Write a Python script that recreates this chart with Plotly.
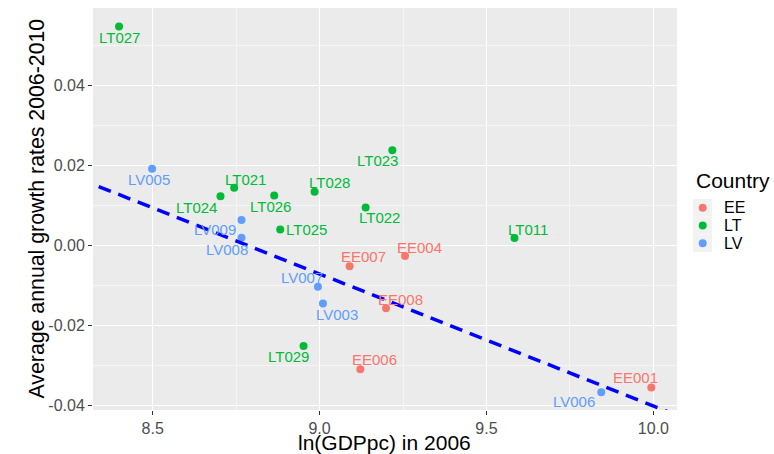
import plotly.graph_objects as go

# ---------------- data ----------------
regions = ["LT027", "LV005", "LT024", "LT021", "LT026", "LT028", "LV009", "LT025",
           "LV008", "LT022", "LT023", "EE007", "LV007", "LV003", "EE008", "LT029",
           "EE006", "EE004", "LT011", "LV006", "EE001"]
country = ["LT", "LV", "LT", "LT", "LT", "LT", "LV", "LT",
           "LV", "LT", "LT", "EE", "LV", "LV", "EE", "LT",
           "EE", "EE", "LT", "LV", "EE"]
ln_gdppc_2006 = [8.399, 8.498, 8.703, 8.744, 8.864, 8.985, 8.766, 8.882,
                 8.766, 9.138, 9.218, 9.090, 8.995, 9.010, 9.199, 8.952,
                 9.122, 9.256, 9.584, 9.844, 9.994]
growth_2006_2010 = [0.0546, 0.0191, 0.0122, 0.01435, 0.0124, 0.01335, 0.00625, 0.0039,
                    0.00185, 0.00943, 0.0237, -0.00525, -0.0104, -0.01458, -0.01575, -0.02518,
                    -0.0310, -0.00275, 0.00175, -0.03675, -0.0356]
# fitted regression line: growth = intercept + slope * ln(GDPpc)
fit_intercept = 0.2898
fit_slope = -0.0330

country_order = ["EE", "LT", "LV"]
country_colors = {"EE": "#F8766D", "LT": "#00BA38", "LV": "#619CFF"}

# label offsets in pixels (dx right, dy down) -- layout only
label_offsets = {
    "LT027": (0, 11), "LV005": (-3.5, 10.7), "LT024": (-23.6, 11.3), "LT021": (11.3, -8.3),
    "LT026": (-3.5, 11.3), "LT028": (14.7, -9.6), "LV009": (-26.6, 9.3), "LT025": (26.7, 0),
    "LV008": (-15, 11.7), "LT022": (14, 10.3), "LT023": (-14.5, 10.7), "EE007": (14, -10),
    "LV007": (-16, -9.6), "LV003": (14.5, 11), "EE008": (14.5, -8.7), "LT029": (-14.6, 10.7),
    "EE006": (14.5, -9.3), "EE004": (14, -8.4), "LT011": (13.6, -8.7), "LV006": (-26.8, 9.4),
    "EE001": (-16.2, -10),
}

x_range = [8.321, 10.071]
y_range = [-0.0412, 0.05925]

FONT = "Liberation Sans, Arial, sans-serif"
ML, MR, MT, MB = 93, 97, 8, 44
W, H = 774, 454
PW, PH = W - ML - MR, H - MT - MB


def px_x(p):
    return (p - ML) / PW


def px_y(p):
    return (H - MB - p) / PH


fig = go.Figure()

for c in country_order:
    idx = [i for i, cc in enumerate(country) if cc == c]
    fig.add_trace(go.Scatter(
        x=[ln_gdppc_2006[i] for i in idx],
        y=[growth_2006_2010[i] for i in idx],
        mode="markers",
        name=c,
        marker=dict(size=8, color=country_colors[c]),
        cliponaxis=False,
        showlegend=False,
    ))

# regression line across whole panel
line_x = [x_range[0] - 0.1, x_range[1] + 0.1]
line_y = [fit_intercept + fit_slope * v for v in line_x]
fig.add_trace(go.Scatter(
    x=line_x, y=line_y, mode="lines", showlegend=False,
    line=dict(color="#0000FF", width=3.5, dash="13px,8px"),
    hoverinfo="skip",
))

annotations = []
for r, c, xv, yv in zip(regions, country, ln_gdppc_2006, growth_2006_2010):
    dx, dy = label_offsets[r]
    annotations.append(dict(
        x=xv, y=yv, xref="x", yref="y", text=r, showarrow=False,
        xshift=dx, yshift=-dy, xanchor="center", yanchor="middle",
        font=dict(family=FONT, size=15, color=country_colors[c]),
    ))

# axis titles
annotations.append(dict(
    x=px_x(36), y=px_y(208.5), xref="paper", yref="paper", text="Average annual growth rates 2006-2010",
    showarrow=False, textangle=-90, xanchor="center", yanchor="middle",
    font=dict(family=FONT, size=21.3, color="#000000"),
))
annotations.append(dict(
    x=px_x(384), y=px_y(442), xref="paper", yref="paper", text="ln(GDPpc) in 2006",
    showarrow=False, xanchor="center", yanchor="middle",
    font=dict(family=FONT, size=21, color="#000000"),
))

# legend (drawn manually to match ggplot key layout)
shapes = []
annotations.append(dict(
    x=px_x(694), y=px_y(180), xref="paper", yref="paper", text="Country",
    showarrow=False, xanchor="left", yanchor="middle",
    font=dict(family=FONT, size=21, color="#000000"),
))
key_top = 199
key_h = 17.7
for k, c in enumerate(country_order):
    y0 = key_top + k * key_h
    yc = y0 + key_h / 2
    shapes.append(dict(type="rect", xref="paper", yref="paper",
                       x0=px_x(693), x1=px_x(712), y0=px_y(y0), y1=px_y(y0 + key_h),
                       fillcolor="#F2F2F2", line=dict(width=0), layer="below"))
    shapes.append(dict(type="circle", xref="paper", yref="paper",
                       x0=px_x(702.7 - 4), x1=px_x(702.7 + 4), y0=px_y(yc - 4), y1=px_y(yc + 4),
                       fillcolor=country_colors[c], line=dict(width=0)))
    annotations.append(dict(
        x=px_x(722), y=px_y(yc), xref="paper", yref="paper", text=c,
        showarrow=False, xanchor="left", yanchor="middle",
        font=dict(family=FONT, size=16, color="#000000"),
    ))

axis_common = dict(
    showline=False, zeroline=False,
    gridcolor="#FFFFFF", gridwidth=1.1,
    ticks="outside", ticklen=4, tickcolor="#333333", tickwidth=1,
    tickfont=dict(family=FONT, size=16, color="#4D4D4D"),
)

fig.update_layout(
    width=W, height=H,
    margin=dict(l=ML, r=MR, t=MT, b=MB, autoexpand=False),
    paper_bgcolor="#FFFFFF",
    plot_bgcolor="#EBEBEB",
    annotations=annotations,
    shapes=shapes,
    xaxis=dict(range=x_range, tickvals=[8.5, 9.0, 9.5, 10.0], ticktext=["8.5", "9.0", "9.5", "10.0"],
               minor=dict(tickvals=[8.25, 8.75, 9.25, 9.75], showgrid=True, gridcolor="#F5F5F5", gridwidth=0.6, ticks=""),
               ticklabelstandoff=0,
               **axis_common),
    yaxis=dict(range=y_range, tickvals=[-0.04, -0.02, 0.0, 0.02, 0.04],
               ticktext=["-0.04", "-0.02", "0.00", "0.02", "0.04"],
               minor=dict(tickvals=[-0.03, -0.01, 0.01, 0.03, 0.05], showgrid=True, gridcolor="#F5F5F5", gridwidth=0.6, ticks=""),
               **axis_common),
    showlegend=False,
)

fig.write_html("out.html")
